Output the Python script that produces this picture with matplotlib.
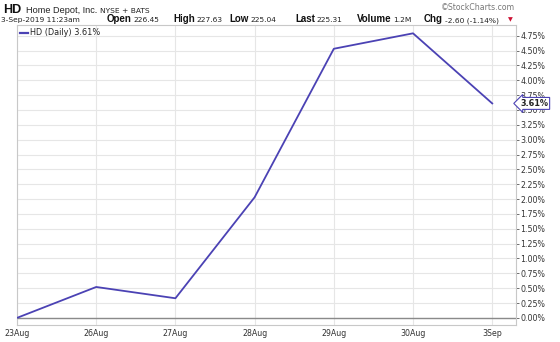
import matplotlib
matplotlib.use('Agg')
import matplotlib.pyplot as plt
import numpy as np

# Datos
fechas = ['23Aug', '26Aug', '27Aug', '28Aug', '29Aug', '30Aug', '3Sep']
cambio = [0.00, 0.52, 0.33, 2.03, 4.53, 4.79, 3.61]
yticks = np.arange(0, 4.76, 0.25)

plt.rcParams['font.family'] = ['DejaVu Sans']

W, H = 560, 342
fig = plt.figure(figsize=(5.6, 3.42), dpi=100)
ax = fig.add_axes([17/W, 1 - 325/H, (516 - 17)/W, (325 - 25)/H])

x = np.arange(len(fechas))
ax.plot(x, cambio, color='#4b42b4', lw=1.3, zorder=3)
ax.axhline(0, color='#8a8a8a', lw=1.0, zorder=2)

ax.set_xlim(0, 6.3)
ax.set_ylim(-0.12, 4.93)
ax.set_xticks(x)
ax.set_xticklabels(fechas)
ax.set_yticks(yticks)
ax.set_yticklabels(['%.2f%%' % v for v in yticks])
ax.yaxis.tick_right()
ax.tick_params(axis='both', labelsize=5.7, colors='#333333', length=2, width=0.5, pad=1)
ax.tick_params(axis='x', length=0, pad=3)
ax.grid(True, color='#e6e6e6', lw=0.8)
for s in ax.spines.values():
    s.set_color('#c8c8c8')
    s.set_linewidth(0.8)

# Etiqueta del último valor
ax.annotate('%.2f%%' % cambio[-1], xy=(1.0, cambio[-1]), xycoords=('axes fraction', 'data'),
            xytext=(3, 0), textcoords='offset points', va='center', ha='left',
            fontsize=5.9, fontweight='bold', color='#222222',
            bbox=dict(boxstyle='larrow,pad=0.18', fc='white', ec='#4b42b4', lw=0.8),
            annotation_clip=False, zorder=5)

# Leyenda
ax.plot([3/499, 11/499], [0.975, 0.975], color='#4b42b4', lw=1.6,
        transform=ax.transAxes, clip_on=False)
ax.text(13/499, 0.975, 'HD (Daily) 3.61%', fontsize=5.9, color='#222222', va='center',
        transform=ax.transAxes)

# Encabezado
fig.text(3/W, 1 - 13/H, 'HD', fontsize=9, fontweight='bold', color='#111111',
         family='Liberation Sans')
fig.text(26/W, 1 - 13/H, 'Home Depot, Inc.', fontsize=6.6, color='#222222',
         family='Liberation Sans')
fig.text(100/W, 1 - 13/H, 'NYSE + BATS', fontsize=5.4, color='#222222')
fig.text(1/W, 1 - 22/H, '3-Sep-2019 11:23am', fontsize=5.4, color='#222222')
claves = ['Open', 'High', 'Low', 'Last', 'Volume', 'Chg']
valores = ['226.45', '227.63', '225.04', '225.31', '1.2M', '-2.60 (-1.14%)']
xpos = [107, 173, 229, 295, 357, 424]
fig.canvas.draw()
for k, v, xp in zip(claves, valores, xpos):
    t = fig.text(xp/W, 1 - 22/H, k, fontsize=7, fontweight='bold', color='#111111',
                 family='Liberation Sans')
    bb = t.get_window_extent(renderer=fig.canvas.get_renderer())
    fig.text((bb.x1 + 2)/W, 1 - 22/H, v, fontsize=5.4, color='#222222')
fig.text(508/W, 1 - 21.5/H, '\u25bc', fontsize=4.5, color='#cc1133')
fig.text(515/W, 1 - 10/H, '\u00a9StockCharts.com', fontsize=5.6, color='#777777', ha='right')

fig.savefig('out.png', dpi=100)
